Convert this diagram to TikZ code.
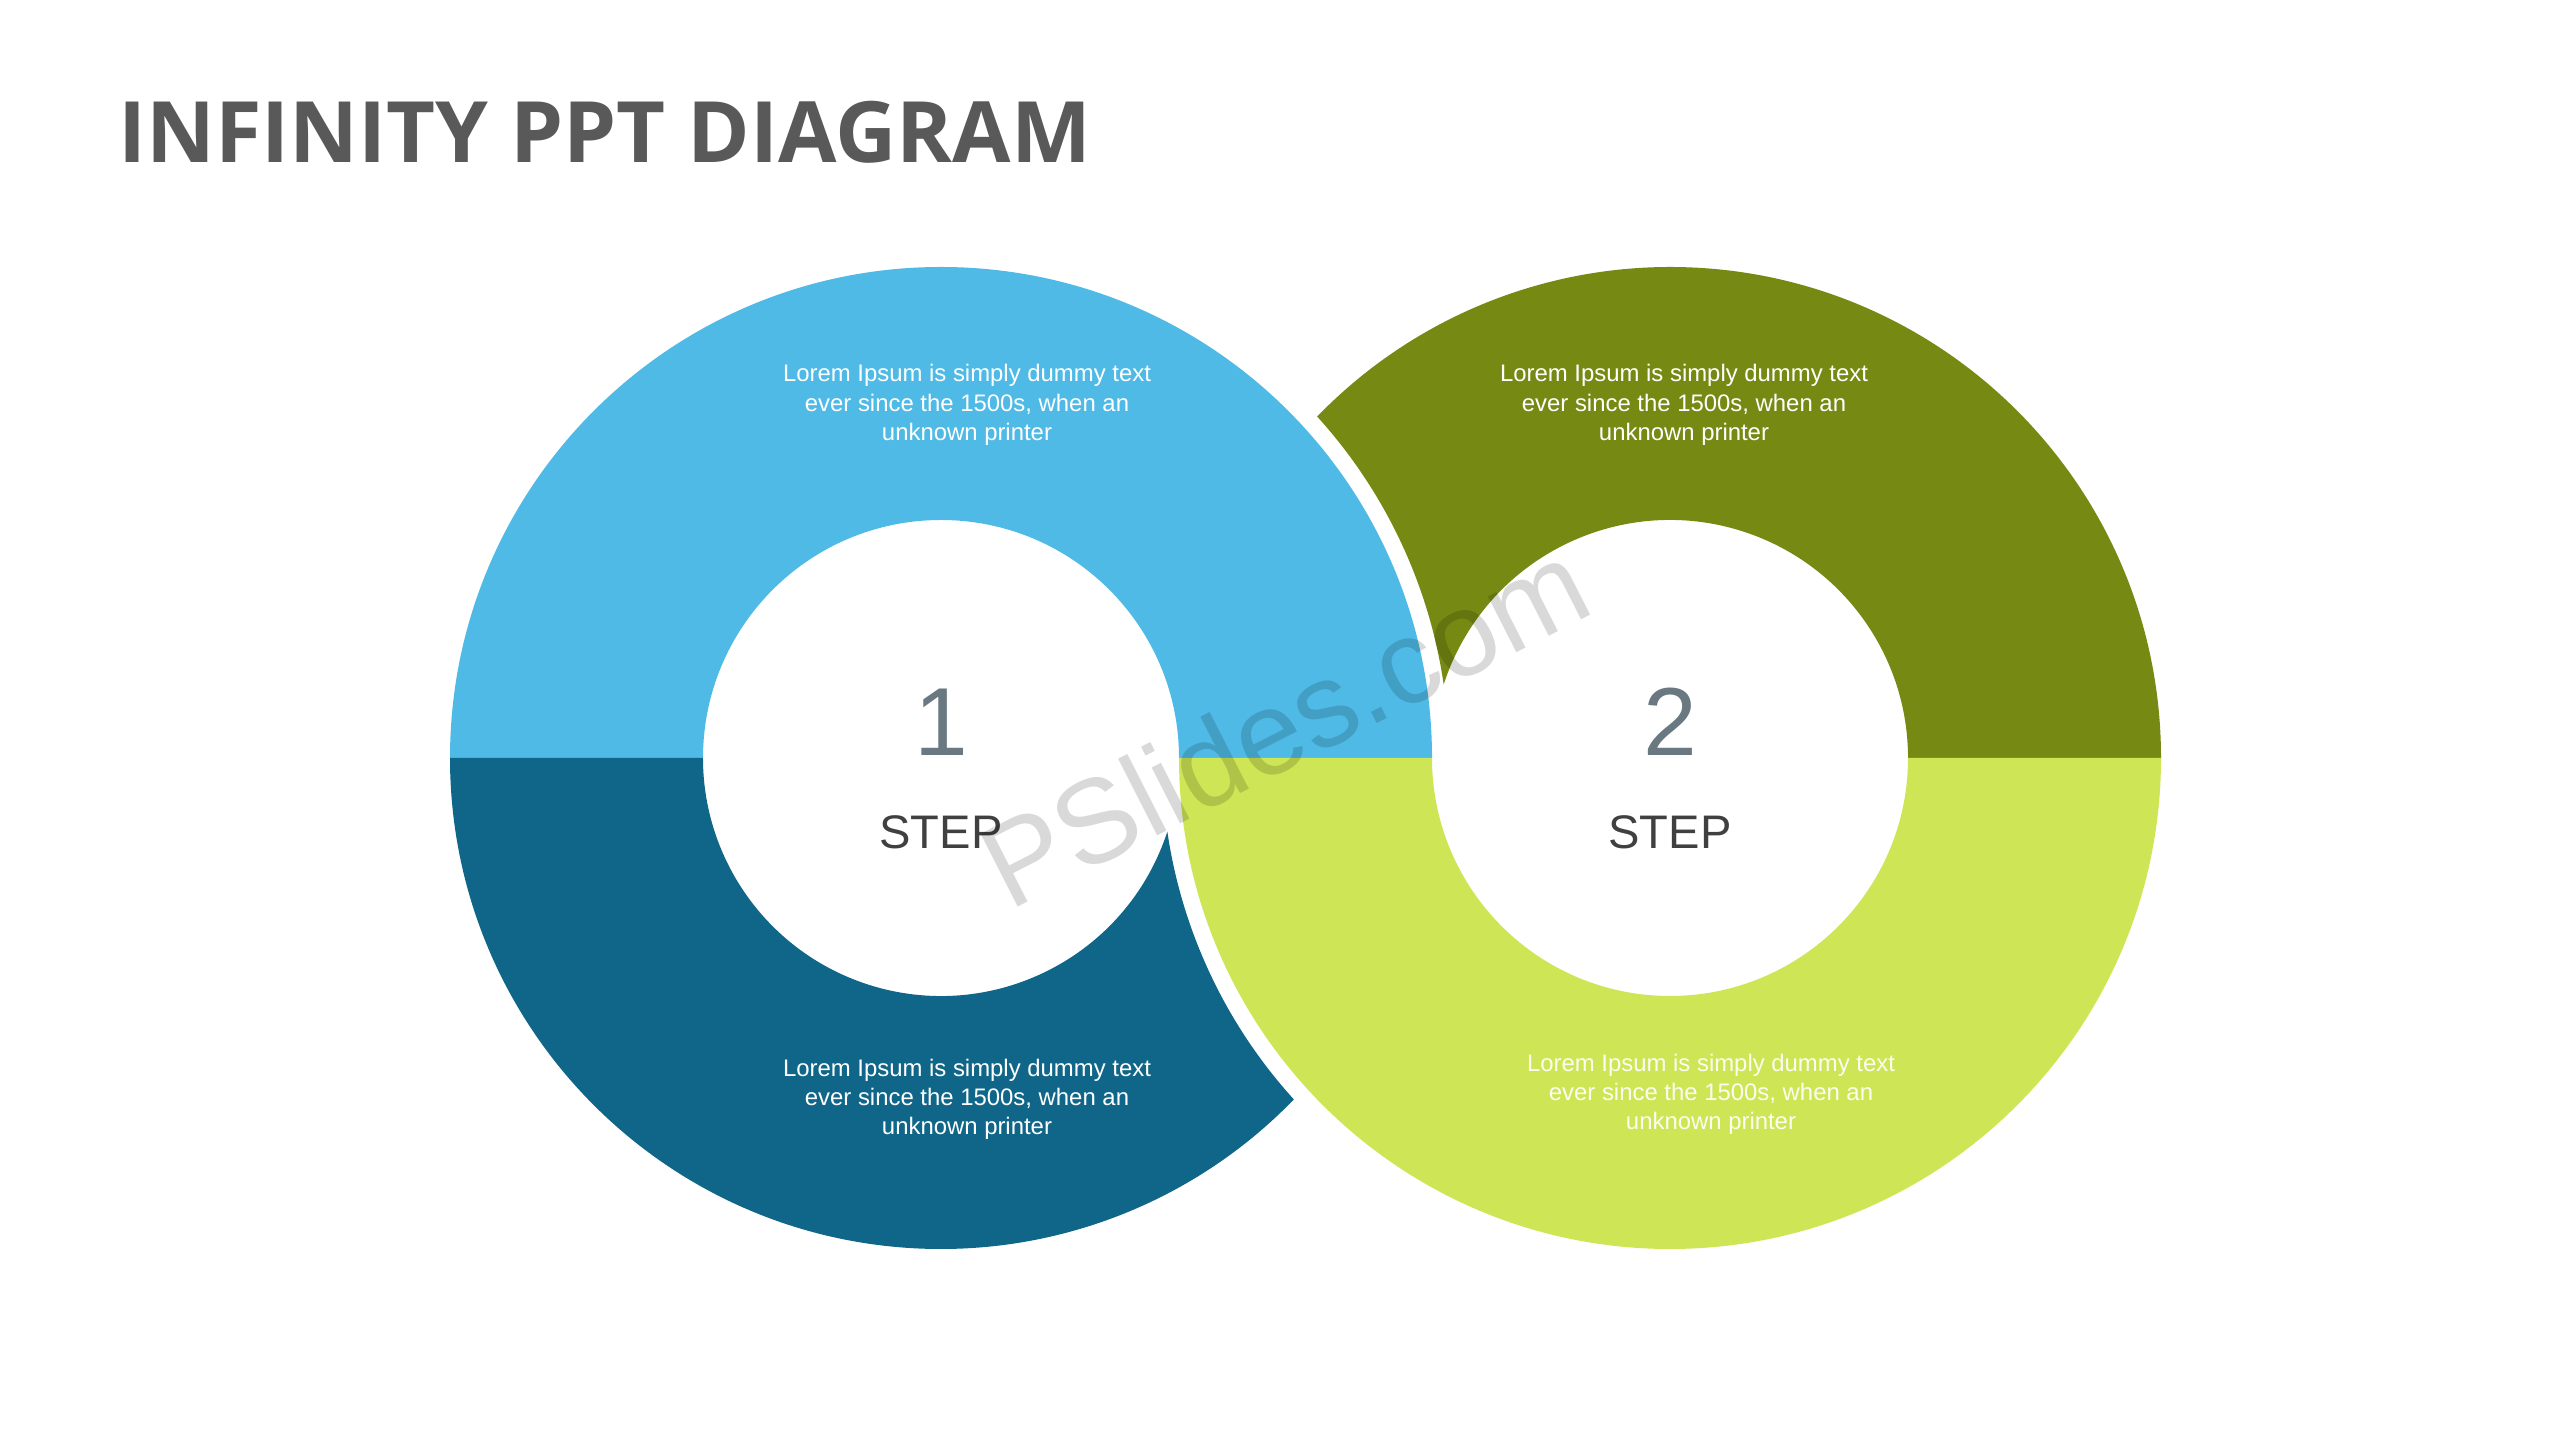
\documentclass[tikz,border=0pt]{standalone}
\usepackage{fontspec}
\setmainfont{Liberation Sans}
\newfontfamily\titrefont{Open Sans}
\usepackage{tikz}
\usetikzlibrary{calc,positioning}

\begin{document}
\begin{tikzpicture}[font=\small]
		% Couleurs des secteurs
		\definecolor{cBleuClair}{RGB}{79,186,230}
		\definecolor{cBleuFonce}{RGB}{16,102,136}
		\definecolor{cOlive}{RGB}{118,138,19}
		\definecolor{cVertClair}{RGB}{206,230,85}
		\definecolor{cTitre}{RGB}{89,89,89}
		\definecolor{cChiffre}{RGB}{106,120,130}
		\definecolor{cEtape}{RGB}{64,64,64}
		
		\tikzset{
			texte/.style={white, align=center, inner sep=0pt,
				font=\fontsize{6.8}{8.3}\selectfont},
			chiffre/.style={cChiffre, anchor=base, inner sep=0pt,
				font=\fontsize{27.5}{30}\selectfont},
			etape/.style={cEtape, anchor=base, inner sep=0pt,
				font=\fontsize{13.4}{15}\selectfont}
		}
		
		% Cadre de la diapositive (1 unite = 100 px)
		\fill[white] (0,0) rectangle (25.6,14.4);
		
		% Rayons, ecart et distance des centres
		\def\Rout{4.91}
		\def\rin{2.38}
		\def\ecart{0.17}
		\def\dc{7.29}
		\pgfmathsetmacro{\Rc}{\Rout+\ecart}
		% Points de coupe (exterieur / interieur)
		\pgfmathsetmacro{\xo}{(\dc*\dc+\Rout*\Rout-\Rc*\Rc)/(2*\dc)}
		\pgfmathsetmacro{\yo}{sqrt(\Rout*\Rout-\xo*\xo)}
		\pgfmathsetmacro{\xin}{(\dc*\dc+\rin*\rin-\Rc*\Rc)/(2*\dc)}
		\pgfmathsetmacro{\yin}{sqrt(\rin*\rin-\xin*\xin)}
		\pgfmathsetmacro{\ao}{atan2(\yo,\xo)}
		\pgfmathsetmacro{\ai}{atan2(\yin,\xin)}
		\pgfmathsetmacro{\bo}{atan2(\yo,\dc-\xo)}
		\pgfmathsetmacro{\bi}{atan2(\yin,\dc-\xin)}
		
		\coordinate (cG) at (9.41,6.82);
		\coordinate (cD) at ($(cG)+(\dc,0)$);
		
		% Anneau gauche, moitie haute
		\fill[cBleuClair] ($(cG)+(0:\Rout)$)
		arc[start angle=0, end angle=180, radius=\Rout]
		-- ($(cG)+(180:\rin)$)
		arc[start angle=180, end angle=0, radius=\rin] -- cycle;
		
		% Anneau gauche, moitie basse (coupee)
		\fill[cBleuFonce] ($(cG)+(180:\Rout)$)
		arc[start angle=180, end angle={360-\ao}, radius=\Rout]
		arc[start angle={180+\bo}, end angle={180+\bi}, radius=\Rc]
		arc[start angle={360-\ai}, end angle=180, radius=\rin] -- cycle;
		
		% Anneau droit, moitie haute (coupee)
		\fill[cOlive] ($(cD)+(0:\Rout)$)
		arc[start angle=0, end angle={180-\ao}, radius=\Rout]
		arc[start angle=\bo, end angle=\bi, radius=\Rc]
		arc[start angle={180-\ai}, end angle=0, radius=\rin] -- cycle;
		
		% Anneau droit, moitie basse
		\fill[cVertClair] ($(cD)+(180:\Rout)$)
		arc[start angle=180, end angle=360, radius=\Rout]
		-- ($(cD)+(0:\rin)$)
		arc[start angle=0, end angle=-180, radius=\rin] -- cycle;
		
		% Titre
		\node[cTitre, anchor=base west, inner sep=0pt,
		font=\titrefont\bfseries\fontsize{24.1}{28}\selectfont]
		(titre) at (1.175,12.77) {INFINITY PPT DIAGRAM};
		
		% Numeros et etapes
		\foreach \c/\n in {cG/1, cD/2}{
			\node[chiffre] (num\n) at ($(\c)+(0,0.02)$) {\n};
			\node[etape] (etape\n) at ($(\c)+(0,-0.91)$) {STEP};
		}
		
		% Textes des secteurs
		\node[texte] (txtHG) at (9.67,10.35)
		{Lorem Ipsum is simply dummy text\\ever since the 1500s, when an\\unknown printer};
		\node[texte] (txtHD) at (16.84,10.35)
		{Lorem Ipsum is simply dummy text\\ever since the 1500s, when an\\unknown printer};
		\node[texte] (txtBG) at (9.67,3.41)
		{Lorem Ipsum is simply dummy text\\ever since the 1500s, when an\\unknown printer};
		\node[texte, white!92!cVertClair] (txtBD) at (17.11,3.46)
		{Lorem Ipsum is simply dummy text\\ever since the 1500s, when an\\unknown printer};
		
		% Filigrane
		\node[black, opacity=0.15, rotate=27, inner sep=0pt,
		font=\fontsize{33.8}{38}\selectfont] (filigrane) at (12.84,7.16) {PSlides.com};
	\end{tikzpicture}
\end{document}
